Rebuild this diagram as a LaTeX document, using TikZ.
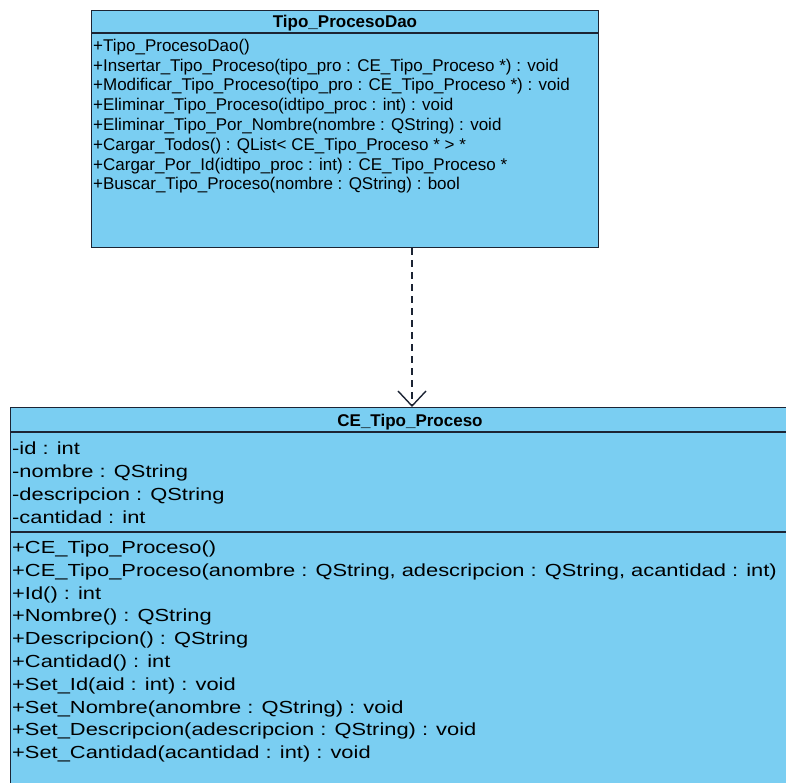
\documentclass[tikz,border=0pt]{standalone}
\usepackage{fontspec}
\setmainfont{Liberation Sans}
\newfontfamily\widesans[FakeStretch=1.25]{Liberation Sans}
\usetikzlibrary{arrows.meta}
\definecolor{umlfill}{RGB}{122,206,242}
\definecolor{umlline}{RGB}{28,36,52}
\tikzset{
  umlbox/.style={draw=umlline, fill=umlfill, line width=1.4pt},
  sepline/.style={draw=umlline, line width=1.4pt},
  toptxt/.style={anchor=base west, inner sep=0pt, font=\fontsize{17}{20}\selectfont, text=black},
  bottxt/.style={anchor=base west, inner sep=0pt, font=\widesans\fontsize{17.5}{21}\selectfont, text=black},
  toptitle/.style={anchor=base, inner sep=0pt, font=\fontsize{17}{20}\selectfont\bfseries, text=black},
  bottitle/.style={anchor=base, inner sep=0pt, font=\fontsize{17}{20}\selectfont\bfseries, text=black},
  dep/.style={draw=umlline, line width=1.4pt, dash pattern=on 7pt off 5pt, -{Straight Barb[length=15pt,width=28pt,line width=1.4pt]}}
}
\begin{document}
\begin{tikzpicture}[x=1pt,y=-1pt]
\useasboundingbox (0,0) rectangle (786,782);
\clip (0,0) rectangle (786,782);
\fill[white] (0,0) rectangle (786,782);
% ---------- Tipo_ProcesoDao ----------
\node[umlbox, anchor=north west, minimum width=507pt, minimum height=237pt, inner sep=0pt] (dao) at (91,10) {};
\draw[sepline] (91,33) -- (598,33);
\node[toptitle] (daot) at (345,27) {Tipo\_ProcesoDao};
\node[toptxt] (d1) at (93,51) {+Tipo\_ProcesoDao()};
\node[toptxt] (d2) at (93,71) {+Insertar\_Tipo\_Proceso(tipo\_pro : CE\_Tipo\_Proceso *) : void};
\node[toptxt] (d3) at (93,90) {+Modificar\_Tipo\_Proceso(tipo\_pro : CE\_Tipo\_Proceso *) : void};
\node[toptxt] (d4) at (93,110) {+Eliminar\_Tipo\_Proceso(idtipo\_proc : int) : void};
\node[toptxt] (d5) at (93,130) {+Eliminar\_Tipo\_Por\_Nombre(nombre : QString) : void};
\node[toptxt] (d6) at (93,150) {+Cargar\_Todos() : QList< CE\_Tipo\_Proceso * > *};
\node[toptxt] (d7) at (93,170) {+Cargar\_Por\_Id(idtipo\_proc : int) : CE\_Tipo\_Proceso *};
\node[toptxt] (d8) at (93,189) {+Buscar\_Tipo\_Proceso(nombre : QString) : bool};
% ---------- CE_Tipo_Proceso ----------
\node[umlbox, anchor=north west, minimum width=800pt, minimum height=400pt, inner sep=0pt] (ce) at (10,407) {};
\draw[sepline] (10,432) -- (810,432);
\draw[sepline] (10,532) -- (810,532);
\node[bottitle] (cet) at (410,426) {CE\_Tipo\_Proceso};
\node[bottxt] (a1) at (12,454) {-id : int};
\node[bottxt] (a2) at (12,477) {-nombre : QString};
\node[bottxt] (a3) at (12,500) {-descripcion : QString};
\node[bottxt] (a4) at (12,523) {-cantidad : int};
\node[bottxt] (m1) at (12,553) {+CE\_Tipo\_Proceso()};
\node[bottxt] (m2) at (12,576) {+CE\_Tipo\_Proceso(anombre : QString, adescripcion : QString, acantidad : int)};
\node[bottxt] (m3) at (12,599) {+Id() : int};
\node[bottxt] (m4) at (12,621) {+Nombre() : QString};
\node[bottxt] (m5) at (12,644) {+Descripcion() : QString};
\node[bottxt] (m6) at (12,667) {+Cantidad() : int};
\node[bottxt] (m7) at (12,690) {+Set\_Id(aid : int) : void};
\node[bottxt] (m8) at (12,713) {+Set\_Nombre(anombre : QString) : void};
\node[bottxt] (m9) at (12,735) {+Set\_Descripcion(adescripcion : QString) : void};
\node[bottxt] (m10) at (12,758) {+Set\_Cantidad(acantidad : int) : void};
% ---------- dependency ----------
\coordinate (lx) at (412,0);
\draw[dep] (dao.south -| lx) -- (ce.north -| lx);
\end{tikzpicture}
\end{document}
